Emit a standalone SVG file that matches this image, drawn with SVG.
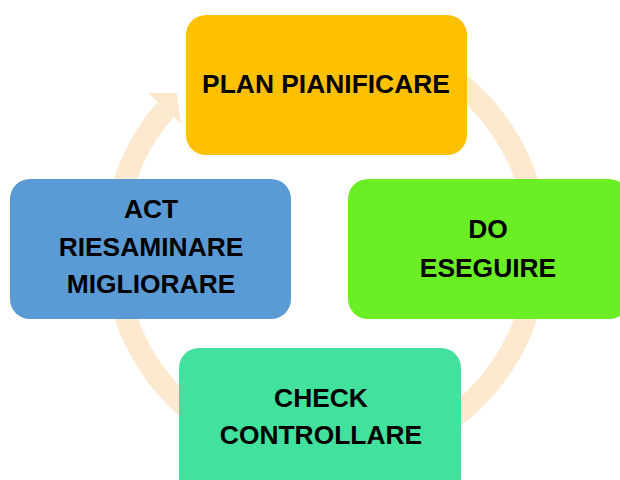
<svg xmlns="http://www.w3.org/2000/svg" width="620" height="480" viewBox="0 0 620 480">
<style>
.t{font-family:"Liberation Sans",Arial,sans-serif;font-weight:bold;font-size:26.4px;fill:#000;text-anchor:middle}
</style>
<rect width="620" height="480" fill="#fff"/>
<g id="connectors">
<path d="M326,36 A212,212 0 0 1 326,460 A212,212 0 0 1 165.5,109.5" fill="none" stroke="#FDE8D0" stroke-width="22"/>
<polygon points="148,93 177,93 181,124" fill="#FDE8D0"/>
</g>
<g id="plan">
<rect x="186" y="15" width="281" height="140" rx="20" fill="#FFC000"/>
<text class="t" x="326" y="93">PLAN PIANIFICARE</text>
</g>
<g id="do">
<rect x="348" y="179" width="281" height="140" rx="20" fill="#6AEF25"/>
<text class="t" x="488" y="238">DO</text>
<text class="t" x="488" y="277">ESEGUIRE</text>
</g>
<g id="check">
<rect x="179" y="348" width="282" height="150" rx="20" fill="#42E19D"/>
<text class="t" x="321" y="407">CHECK</text>
<text class="t" x="321" y="444">CONTROLLARE</text>
</g>
<g id="act">
<rect x="10" y="179" width="281" height="140" rx="20" fill="#5B9BD5"/>
<text class="t" x="151" y="218">ACT</text>
<text class="t" x="151" y="256">RIESAMINARE</text>
<text class="t" x="151" y="293">MIGLIORARE</text>
</g>
</svg>
